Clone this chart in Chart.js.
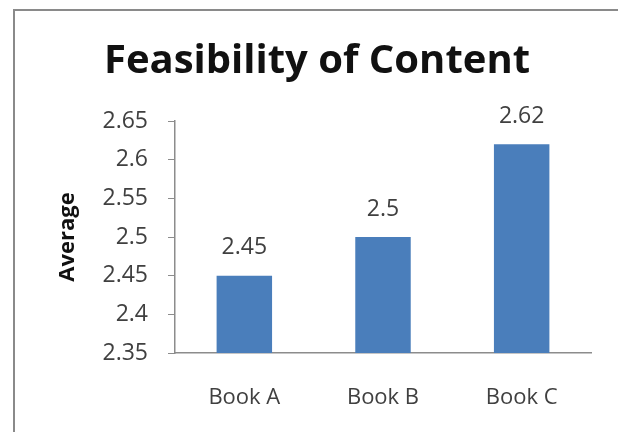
<!DOCTYPE html>
<html>
<head>
<meta charset="utf-8">
<script src="https://cdn.jsdelivr.net/npm/chart.js@4"></script>
<style>
  html, body { margin: 0; padding: 0; background: #fff; }
  #wrap { width: 618px; height: 432px; }
</style>
</head>
<body>
<div id="wrap"><canvas id="chart" width="618" height="432"></canvas></div>
<script>
const books = ["Book A", "Book B", "Book C"];
const averages = [2.45, 2.5, 2.62];
const yTicks = [2.35, 2.4, 2.45, 2.5, 2.55, 2.6, 2.65];
const chartTitle = "Feasibility of Content";

const FONT = "'Open Sans', sans-serif";
const TEXT = "#404040";
const AXIS = "#8c8c8c";

// chart border and title, centred on the framed box
const frame = {
  id: "frame",
  beforeDraw(chart) {
    const ctx = chart.ctx;
    ctx.save();
    ctx.fillStyle = "#fff";
    ctx.fillRect(0, 0, chart.width, chart.height);
    ctx.strokeStyle = "#8a8a8a";
    ctx.lineWidth = 2;
    ctx.beginPath();
    ctx.moveTo(14, chart.height);
    ctx.lineTo(14, 10);
    ctx.lineTo(chart.width, 10);
    ctx.stroke();
    ctx.font = "bold 40px " + FONT;
    ctx.fillStyle = "#111";
    ctx.textAlign = "center";
    ctx.textBaseline = "middle";
    ctx.fillText(chartTitle, 317, 62);
    ctx.restore();
  }
};

// value labels above each bar
const valueLabels = {
  id: "valueLabels",
  afterDatasetsDraw(chart) {
    const ctx = chart.ctx;
    const meta = chart.getDatasetMeta(0);
    ctx.save();
    ctx.font = "23px " + FONT;
    ctx.fillStyle = TEXT;
    ctx.textAlign = "center";
    ctx.textBaseline = "middle";
    meta.data.forEach((bar, i) => {
      ctx.fillText(String(averages[i]), bar.x, bar.y - 28);
    });
    ctx.restore();
  }
};

new Chart(document.getElementById("chart").getContext("2d"), {
  type: "bar",
  data: {
    labels: books,
    datasets: [{
      data: averages,
      backgroundColor: "#4a7ebb",
      borderWidth: 0,
      categoryPercentage: 1,
      barPercentage: 0.4,
    }],
  },
  options: {
    responsive: false,
    animation: false,
    layout: { padding: { left: 14, right: 27, top: 121, bottom: 0 } },
    plugins: {
      legend: { display: false },
      tooltip: { enabled: false },
      title: { display: false },
    },
    scales: {
      x: {
        grid: { display: false, drawTicks: false },
        border: { color: AXIS, width: 1.5 },
        ticks: { color: TEXT, font: { family: FONT, size: 22 }, padding: 32 },
        afterFit(scale) { scale.height = 79; },
      },
      y: {
        min: 2.35,
        max: 2.65,
        afterBuildTicks(scale) { scale.ticks = yTicks.map(v => ({ value: v })); },
        grid: { drawOnChartArea: false, tickLength: 7, color: AXIS },
        border: { color: AXIS, width: 1.5 },
        ticks: {
          color: TEXT,
          font: { family: FONT, size: 23 },
          padding: 20,
          callback: v => String(Math.round(v * 100) / 100),
        },
        title: {
          display: true,
          text: "Average",
          color: "#111",
          font: { family: FONT, size: 22, weight: "bold" },
          padding: { top: 41, bottom: 0 },
        },
        afterFit(scale) { scale.width = 161; },
      },
    },
  },
  plugins: [frame, valueLabels],
});
</script>
</body>
</html>
